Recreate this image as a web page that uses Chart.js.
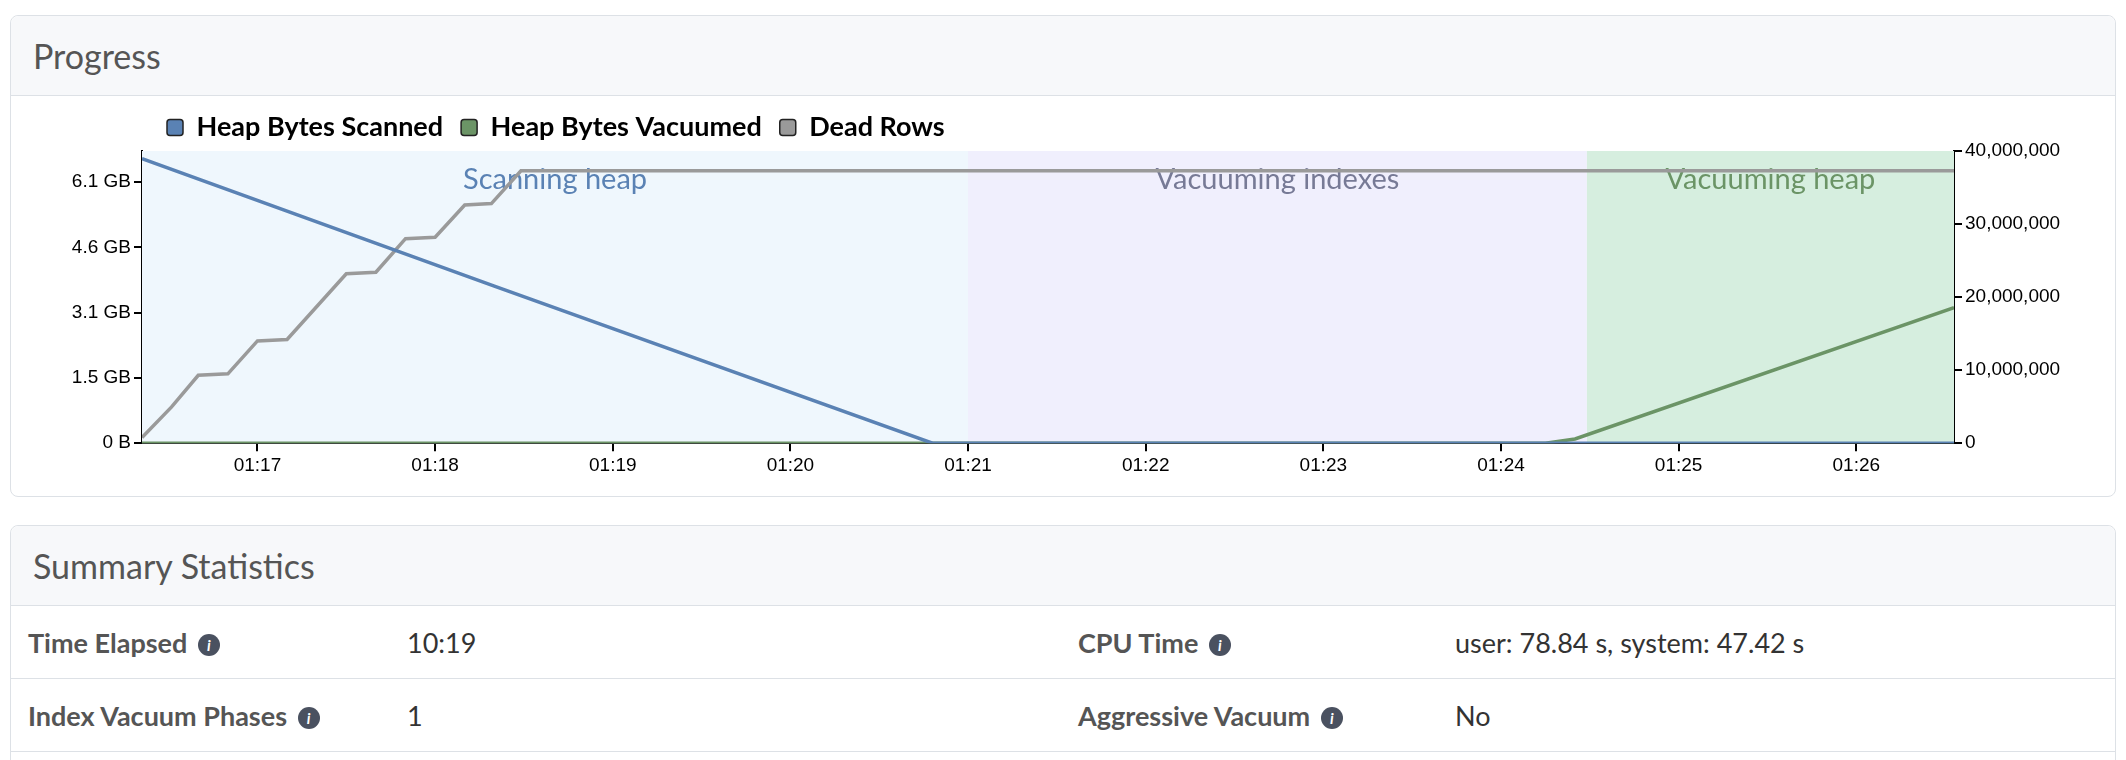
<!DOCTYPE html>
<html><head><meta charset="utf-8">
<script src="https://cdn.jsdelivr.net/npm/chart.js@4"></script>
<style>
body{margin:0;background:#fff;font-family:Lato,"Open Sans",sans-serif;width:2126px;height:760px;overflow:hidden;}
.card{position:absolute;left:10px;width:2104px;border:1px solid #dde1e6;border-radius:8px;background:#fff;}
.hdr{background:#f7f8fa;border-bottom:1px solid #dde1e6;height:80px;box-sizing:border-box;padding-left:22px;font-size:34px;color:#555;line-height:80px;border-radius:8px 8px 0 0;}
.row{position:absolute;left:0;width:100%;height:72px;border-bottom:1px solid #dde1e6;font-size:27px;color:#333;}
.row span{position:absolute;top:20px;}
.lbl{font-weight:bold;color:#555;}
.i{display:inline-block;width:22px;height:22px;border-radius:50%;background:#4a5160;color:#fff;font-size:15px;text-align:center;line-height:22px;vertical-align:2px;margin-left:4px;font-weight:bold;}
</style></head><body>
<div class="card" style="top:15px;height:480px;"><div class="hdr">Progress</div>
<div style="position:absolute;left:0;top:80px;width:2104px;height:398px;"><canvas id="c" width="2104" height="398"></canvas></div></div>
<div class="card" style="top:525px;height:260px;"><div class="hdr">Summary Statistics</div>
<div class="row" style="top:80px;"><span class="lbl" style="left:17px">Time Elapsed <i class="i">i</i></span><span style="left:396px">10:19</span><span class="lbl" style="left:1067px">CPU Time <i class="i">i</i></span><span style="left:1444px">user: 78.84 s, system: 47.42 s</span></div>
<div class="row" style="top:153px;"><span class="lbl" style="left:17px">Index Vacuum Phases <i class="i">i</i></span><span style="left:396px">1</span><span class="lbl" style="left:1067px">Aggressive Vacuum <i class="i">i</i></span><span style="left:1444px">No</span></div>
</div>
<script>
// time in seconds since midnight
const T0 = 4581, T1 = 5193;
const scannedT = [4581, 4700, 4848, 4860, 5193];
const scannedV = [6.67e9, 3.68e9, 0.0, 0.0, 0.0];
const vacuumedT = [4581, 5055, 5065, 5193];
const vacuumedV = [0, 0, 0.1e9, 3.18e9];
const deadT = [4581,4591,4600,4610,4620,4630,4650,4660,4670,4680,4690,4699,4709,5193];
const deadV = [0.78e6,4.97e6,9.3e6,9.5e6,14.0e6,14.2e6,23.2e6,23.4e6,28.0e6,28.2e6,32.6e6,32.8e6,37.3e6,37.3e6];
const phaseNames = ["Scanning heap","Vacuuming indexes","Vacuuming heap"];
const phaseStart = [4581, 4860, 5069];
const phaseEnd = [4860, 5069, 5193];
const phaseFill = ["#eff7fd","#f0effd","#d6eedf"];
const phaseText = ["#5a82b4","#777a96","#6b9466"];
const leftTicks = [0, 1.53e9, 3.06e9, 4.59e9, 6.12e9];

const pts = (t,v)=>t.map((x,i)=>({x, y:v[i]}));
const phasePlugin = {id:'phases',
 afterLayout(ch){ if(ch.legend){ ch.legend.left += 128; ch.legend.right += 128; } },
 beforeDatasetsDraw(ch){
  const {ctx, chartArea:a, scales:{x}} = ch;
  ctx.save();
  phaseNames.forEach((n,i)=>{
    const x0=x.getPixelForValue(phaseStart[i]), x1=x.getPixelForValue(phaseEnd[i]);
    ctx.fillStyle=phaseFill[i]; ctx.fillRect(x0,a.top,x1-x0,a.bottom-a.top);
    ctx.fillStyle=phaseText[i]; ctx.font='29px Lato, "Open Sans", sans-serif';
    ctx.textAlign='center'; ctx.textBaseline='middle';
    ctx.fillText(n,(x0+x1)/2,a.top+29);
  });
  ctx.restore();
}};
const tickFont = {family:'"Liberation Sans", Arial, sans-serif', size:19};
new Chart(document.getElementById('c'), {
  type:'line',
  data:{datasets:[
    {label:'Heap Bytes Scanned', data:pts(scannedT,scannedV), borderColor:'#5a82b4', backgroundColor:'#5a82b4', yAxisID:'y', borderWidth:3.5},
    {label:'Heap Bytes Vacuumed', data:pts(vacuumedT,vacuumedV), borderColor:'#6b9466', backgroundColor:'#6b9466', yAxisID:'y', borderWidth:3.5},
    {label:'Dead Rows', data:pts(deadT,deadV), borderColor:'#9a9a9a', backgroundColor:'#9a9a9a', yAxisID:'y2', borderWidth:3.5}
  ]},
  options:{responsive:false, animation:false, elements:{point:{radius:0},line:{tension:0}},
    layout:{padding:{left:10,right:10,top:0,bottom:14}},
    plugins:{tooltip:{enabled:false},
      legend:{align:'start', labels:{font:{family:'Lato, "Open Sans", sans-serif',size:27,weight:'bold'}, color:'#333', boxWidth:16, boxHeight:16, padding:18,
        generateLabels(ch){return ch.data.datasets.map((d,i)=>({text:d.label, fillStyle:d.backgroundColor, strokeStyle:'#222', lineWidth:1.5, datasetIndex:i, borderRadius:3}));}},
        padding:{top:24,bottom:22}}
    },
    scales:{
      x:{type:'linear', min:T0, max:T1, afterBuildTicks(s){s.ticks=[];for(let m=77;m<=86;m++)s.ticks.push({value:m*60});},
        ticks:{font:tickFont,color:'#000',callback:v=>'01:'+String(Math.floor(v/60)-60).padStart(2,'0'),maxRotation:0,autoSkip:false},
        grid:{drawOnChartArea:false,color:'#000',tickLength:8,lineWidth:2}, border:{color:'#000',width:2}},
      y:{position:'left', min:0, max:6.85e9, afterBuildTicks(s){s.ticks=leftTicks.map(v=>({value:v}));},
        ticks:{font:tickFont,color:'#000',callback:v=>v===0?'0 B':(v/1e9).toFixed(1)+' GB'},
        grid:{drawOnChartArea:false,color:'#000',tickLength:8,lineWidth:2}, border:{color:'#000',width:2}, afterFit(s){s.width=121;}},
      y2:{position:'right', min:0, max:40e6, ticks:{stepSize:10e6,font:tickFont,color:'#000',callback:v=>v.toLocaleString('en-US')},
        grid:{drawOnChartArea:false,color:'#000',tickLength:8,lineWidth:2}, border:{color:'#000',width:2}, afterFit(s){s.width=151;}}
    }
  },
  plugins:[phasePlugin]
});
</script></body></html>
